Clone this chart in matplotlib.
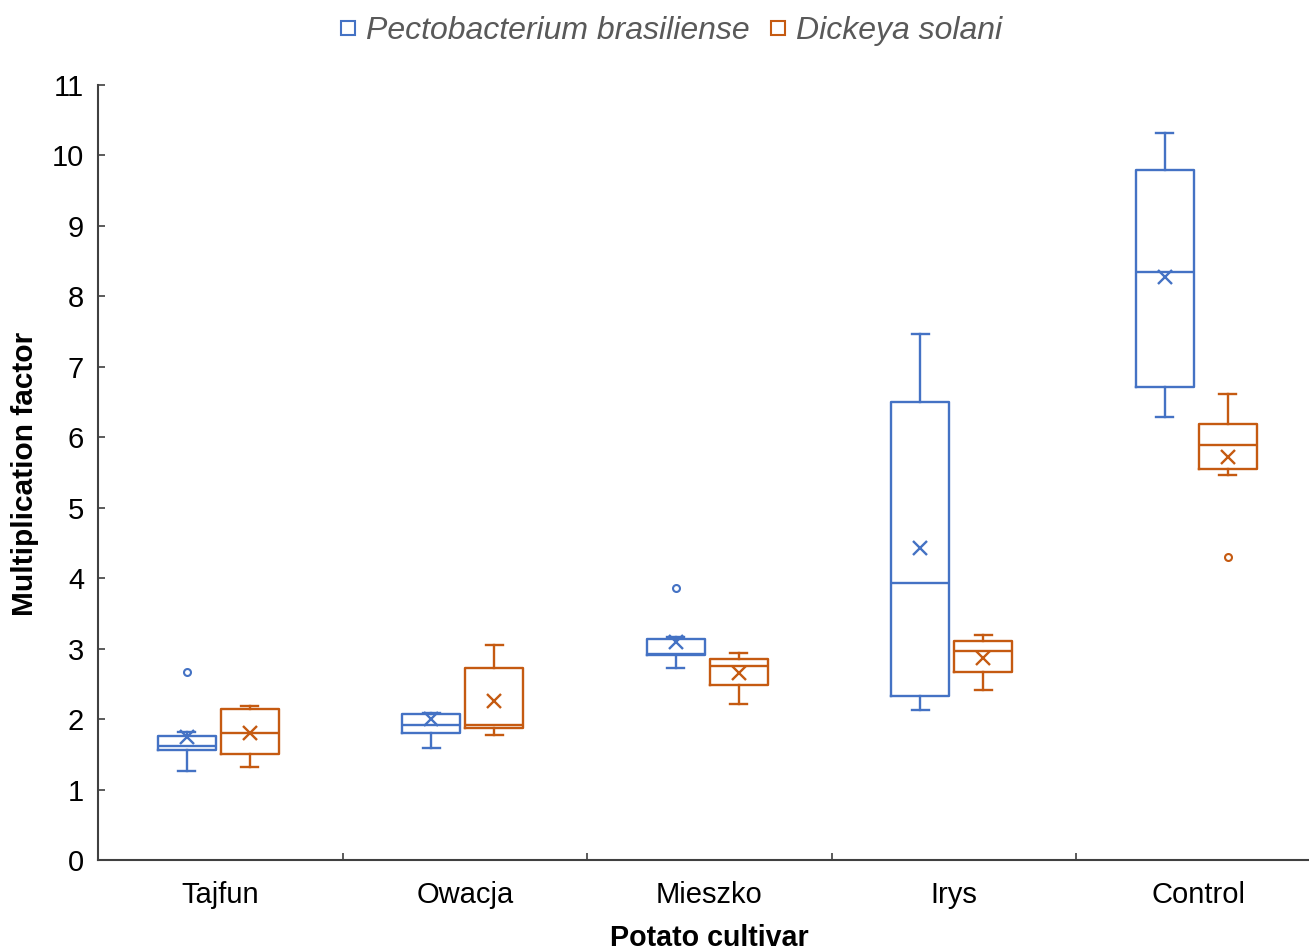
import matplotlib
matplotlib.use("Agg")
import matplotlib.pyplot as plt
from matplotlib.lines import Line2D

plt.rcParams['font.family'] = ['Liberation Sans', 'DejaVu Sans']

cultivars = ["Tajfun", "Owacja", "Mieszko", "Irys", "Control"]
series_names = ["Pectobacterium brasiliense", "Dickeya solani"]
colors = ["#4472C4", "#C55A11"]

# Pectobacterium brasiliense: whisker low, q1, median, q3, whisker high, mean, outliers
pb_whislo = [1.27, 1.59, 2.73, 2.13, 6.29]
pb_q1     = [1.56, 1.80, 2.91, 2.33, 6.71]
pb_med    = [1.62, 1.92, 2.93, 3.93, 8.34]
pb_q3     = [1.76, 2.07, 3.13, 6.50, 9.79]
pb_whishi = [1.81, 2.09, 3.17, 7.46, 10.32]
pb_mean   = [1.75, 2.00, 3.09, 4.43, 8.28]
pb_fliers = [[2.67], [], [3.86], [], []]

# Dickeya solani
ds_whislo = [1.32, 1.78, 2.21, 2.41, 5.46]
ds_q1     = [1.51, 1.88, 2.48, 2.67, 5.55]
ds_med    = [1.80, 1.92, 2.75, 2.97, 5.89]
ds_q3     = [2.14, 2.73, 2.85, 3.11, 6.19]
ds_whishi = [2.19, 3.05, 2.94, 3.19, 6.62]
ds_mean   = [1.80, 2.25, 2.65, 2.87, 5.72]
ds_fliers = [[], [], [], [], [4.30]]

yticks = list(range(0, 12))

def make_stats(wl, q1, med, q3, wh, mean, fl):
    return [dict(whislo=a, q1=b, med=c, q3=d, whishi=e, mean=f, fliers=g)
            for a, b, c, d, e, f, g in zip(wl, q1, med, q3, wh, mean, fl)]

fig = plt.figure(figsize=(13.09, 9.51), dpi=100)
ax = fig.add_axes([98/1309, 1-860/951, (1320.5-98)/1309, (860-85)/951])

all_stats = [
    make_stats(pb_whislo, pb_q1, pb_med, pb_q3, pb_whishi, pb_mean, pb_fliers),
    make_stats(ds_whislo, ds_q1, ds_med, ds_q3, ds_whishi, ds_mean, ds_fliers),
]
offsets = [-0.137, 0.121]
lw = 1.7
for stats, off, col in zip(all_stats, offsets, colors):
    pos = [i + off for i in range(len(cultivars))]
    ax.bxp(stats, positions=pos, widths=0.237, showmeans=True, manage_ticks=False,
           capwidths=0.07,
           boxprops=dict(color=col, linewidth=lw),
           whiskerprops=dict(color=col, linewidth=lw),
           capprops=dict(color=col, linewidth=lw),
           medianprops=dict(color=col, linewidth=lw),
           meanprops=dict(marker='x', markeredgecolor=col, markerfacecolor=col,
                          markersize=10, markeredgewidth=1.7, linestyle='none'),
           flierprops=dict(marker='o', markerfacecolor='none', markeredgecolor=col,
                           markersize=5, markeredgewidth=1.5, linestyle='none'))

ax.set_xlim(-0.5, len(cultivars) - 0.5)
ax.set_ylim(0, 11)
ax.set_yticks(yticks)
ax.set_yticklabels([str(t) for t in yticks])
ax.set_xticks(range(len(cultivars)))
ax.set_xticklabels(cultivars)
ax.set_xticks([i + 0.5 for i in range(len(cultivars) - 1)], minor=True)

spine_col = "#404040"
for s in ['top', 'right']:
    ax.spines[s].set_visible(False)
for s in ['left', 'bottom']:
    ax.spines[s].set_color(spine_col)
    ax.spines[s].set_linewidth(1.5)

ax.tick_params(axis='y', direction='in', length=5, width=1.2, color=spine_col,
               labelsize=21, pad=10, labelcolor='black')
ax.tick_params(axis='x', which='major', length=0, labelsize=21, pad=15, labelcolor='black')
ax.tick_params(axis='x', which='minor', direction='in', length=5, width=1.2, color=spine_col)

ax.set_ylabel("Multiplication factor", fontsize=21.5, fontweight='bold')
ax.yaxis.set_label_coords(-(98 - 25) / (1320.5 - 98), 0.5 - (474 - 472.5) / 775)
ax.set_xlabel("Potato cultivar", fontsize=20.6, fontweight='bold')
ax.xaxis.set_label_coords((709 - 98) / (1320.5 - 98), -(938 - 860) / 775)
ax.xaxis.label.set_verticalalignment('center')
ax.yaxis.label.set_verticalalignment('center')

handles = [Line2D([], [], marker='s', linestyle='none', markerfacecolor='none',
                  markeredgecolor=c, markersize=10.5, markeredgewidth=1.5) for c in colors]
leg = fig.legend(handles, series_names, loc='center', bbox_to_anchor=(667/1309, 1-31/951),
                 ncol=2, frameon=False, fontsize=23, handletextpad=0.05, columnspacing=0.4,
                 handlelength=1.0)
for t in leg.get_texts():
    t.set_fontstyle('italic')
    t.set_color('#595959')

fig.savefig("out.png", dpi=100)
